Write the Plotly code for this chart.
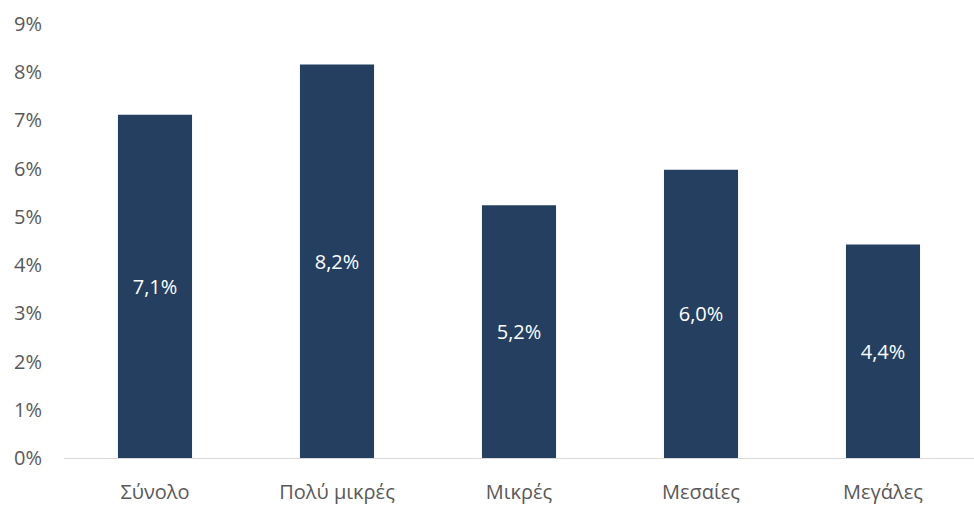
import plotly.graph_objects as go

categories = ["Σύνολο", "Πολύ μικρές", "Μικρές", "Μεσαίες", "Μεγάλες"]
values = [7.12, 8.16, 5.24, 5.98, 4.43]
y_ticks = [0, 1, 2, 3, 4, 5, 6, 7, 8, 9]
y_tick_labels = [f"{v}%" for v in y_ticks]

fig = go.Figure(go.Bar(
    x=categories,
    y=values,
    marker=dict(color="#243F60", line=dict(width=0)),
    texttemplate="%{y:.1f}%",
    textposition="inside",
    insidetextanchor="middle",
    textfont=dict(color="white", size=20, family="Open Sans"),
    cliponaxis=False,
))

fig.update_layout(
    width=974, height=505,
    margin=dict(l=64, r=0, t=24, b=43),
    paper_bgcolor="white", plot_bgcolor="white",
    separators=",.",
    bargap=0.593,
    showlegend=False,
    font=dict(family="Open Sans", size=20, color="#595959"),
    xaxis=dict(showgrid=False, showline=True, linecolor="#D9D9D9", linewidth=1,
               ticks="", ticklabelstandoff=16, tickfont=dict(size=20, color="#595959")),
    yaxis=dict(range=[0, 9], tickvals=y_ticks, ticktext=y_tick_labels,
               showgrid=False, zeroline=False, showline=False,
               ticks="", ticklabelstandoff=21, tickfont=dict(size=20, color="#595959")),
)

fig.write_html("out.html")
